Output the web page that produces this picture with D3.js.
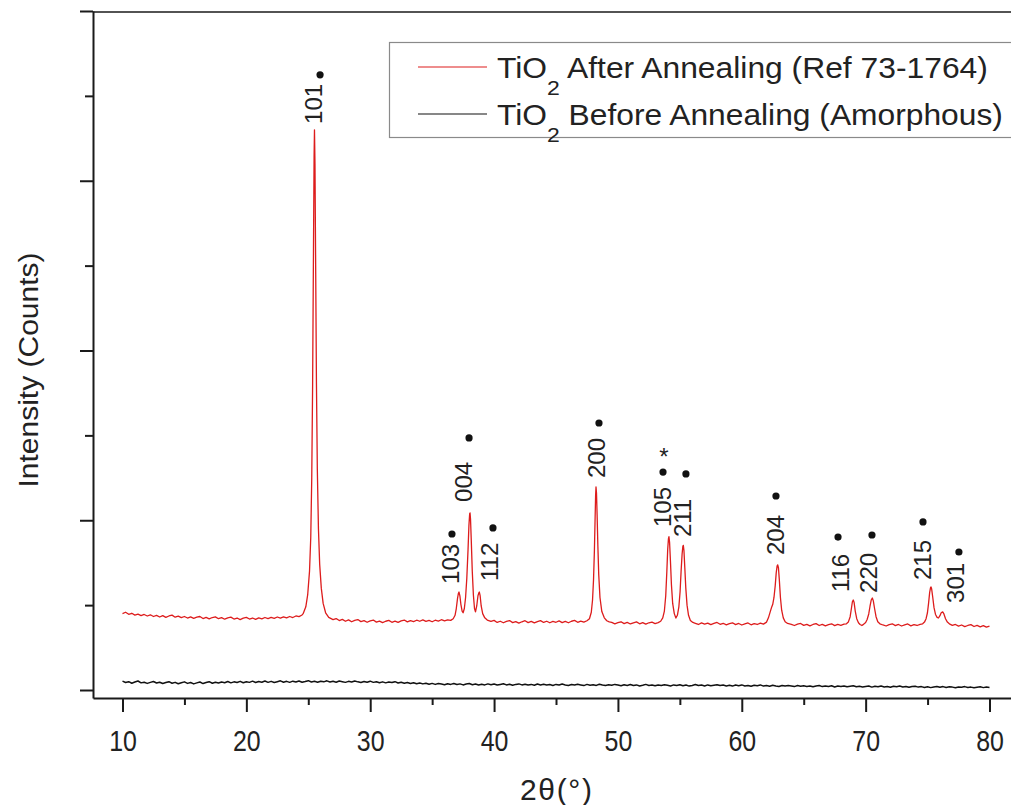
<!DOCTYPE html>
<html>
<head>
<meta charset="utf-8">
<script src="https://cdn.jsdelivr.net/npm/d3@7/dist/d3.min.js"></script>
<style>
  html, body { margin: 0; padding: 0; background: #fff; }
  svg { display: block; font-family: "Liberation Sans", Arial, sans-serif; }
</style>
</head>
<body>
<svg id="chart" width="1011" height="805"></svg>
<script>
// ---------------- DATA ----------------
// 2θ (degrees) vs intensity (counts)
const redSeries = [
  [10,450],[10.25,458],[10.5,446],[10.75,452],[11,441],[11.25,447],[11.5,438],[11.75,445],[12,436],[12.25,443],[12.5,433],[12.75,440],
  [13,430],[13.25,438],[13.5,428],[13.75,436],[14,441],[14.25,429],[14.5,435],[14.75,426],[15,433],[15.25,424],[15.5,431],[15.75,422],
  [16,429],[16.25,433],[16.5,421],[16.75,428],[17,419],[17.25,427],[17.5,431],[17.75,420],[18,426],[18.25,417],[18.5,425],[18.75,429],
  [19,418],[19.25,424],[19.5,415],[19.75,423],[20,428],[20.25,418],[20.5,424],[20.75,416],[21,425],[21.25,419],[21.5,427],[21.75,420],
  [22,428],[22.25,422],[22.5,430],[22.75,423],[23,431],[23.25,425],[23.5,433],[23.75,427],[24,436],[24.25,432],[24.5,442],
  [24.6,452],[24.8,490],[24.95,560],[25.1,700],[25.2,900],[25.28,1250],[25.35,1800],[25.42,2600],[25.47,3150],[25.5,3300],[25.54,3100],
  [25.6,2450],[25.66,1800],[25.73,1300],[25.82,950],[25.92,740],[26.05,600],[26.2,510],[26.4,455],[26.65,428],[27,415],
  [27.25,421],[27.5,409],[27.75,416],[28,405],[28.25,413],[28.5,402],[28.75,410],[29,415],[29.25,403],[29.5,409],[29.75,399],[30,407],
  [30.25,412],[30.5,400],[30.75,406],[31,397],[31.25,405],[31.5,410],[31.75,399],[32,406],[32.25,398],[32.5,407],[32.75,412],[33,401],
  [33.25,409],[33.5,403],[33.75,411],[34,405],[34.25,413],[34.5,404],[34.75,410],[35,402],[35.25,411],[35.5,406],[35.75,414],[36,407],
  [36.25,413],[36.5,410],
  [36.7,420],[36.85,440],[36.95,480],[37.05,540],[37.12,570],[37.17,577],[37.24,555],[37.32,505],[37.42,465],[37.5,455],[37.6,480],
  [37.7,545],[37.8,660],[37.9,830],[37.97,970],[38.03,1038],[38.06,1043],[38.1,1005],[38.16,880],[38.24,700],[38.33,560],[38.42,480],
  [38.5,460],[38.6,495],[38.7,555],[38.77,572],[38.81,577],[38.87,558],[38.96,495],[39.08,450],[39.25,425],[39.45,412],[39.75,404],
  [40,410],[40.25,398],[40.5,405],[40.75,396],[41,404],[41.25,409],[41.5,397],[41.75,403],[42,394],[42.25,402],[42.5,408],[42.75,397],
  [43,404],[43.25,395],[43.5,403],[43.75,409],[44,398],[44.25,405],[44.5,396],[44.75,404],[45,399],[45.25,407],[45.5,397],[45.75,404],
  [46,396],[46.25,405],[46.5,410],[46.75,399],[47,406],[47.25,400],[47.5,408],
  [47.7,420],[47.85,458],[47.95,530],[48.03,650],[48.1,820],[48.16,1020],[48.2,1150],[48.23,1196],[48.27,1160],[48.32,1030],[48.38,850],
  [48.45,680],[48.55,545],[48.7,462],[48.9,425],[49.1,408],[49.3,401],
  [49.5,398],[49.75,390],[50,397],[50.25,402],[50.5,391],[50.75,398],[51,389],[51.25,396],[51.5,401],[51.75,390],[52,397],[52.25,388],
  [52.5,396],[52.75,400],[53,391],[53.25,397],
  [53.45,405],[53.62,425],[53.75,465],[53.86,555],[53.95,700],[54.02,830],[54.08,892],[54.12,903],[54.17,870],[54.24,760],[54.32,620],
  [54.42,510],[54.55,450],[54.68,424],[54.8,440],[54.92,490],[55.02,580],[55.1,700],[55.18,800],[55.24,845],[55.28,852],[55.33,822],
  [55.4,720],[55.48,600],[55.58,500],[55.7,440],[55.85,410],[56.05,398],
  [56.25,393],[56.5,386],[56.75,395],[57,388],[57.25,394],[57.5,385],[57.75,392],[58,398],[58.25,387],[58.5,393],[58.75,384],[59,391],
  [59.25,396],[59.5,385],[59.75,392],[60,383],[60.25,390],[60.5,395],[60.75,384],[61,391],[61.25,386],[61.5,394],[61.75,388],
  [62,400],[62.15,425],[62.3,462],[62.41,488],[62.5,505],[62.6,545],[62.7,615],[62.78,690],[62.85,730],[62.9,737],[62.96,720],
  [63.03,650],[63.12,545],[63.22,470],[63.35,425],[63.5,402],[63.7,392],
  [64,387],[64.25,380],[64.5,388],[64.75,392],[65,381],[65.25,387],[65.5,378],[65.75,386],[66,391],[66.25,380],[66.5,387],[66.75,378],
  [67,385],[67.25,390],[67.5,379],[67.75,386],[68,381],[68.25,388],
  [68.45,390],[68.6,400],[68.75,432],[68.85,480],[68.93,520],[69,530],[69.07,515],[69.16,465],[69.28,420],[69.42,396],[69.55,386],
  [69.7,380],[69.85,388],[70,398],[70.12,415],[70.25,448],[70.35,492],[70.45,530],[70.54,542],[70.62,525],[70.72,480],[70.84,432],
  [70.98,402],[71.15,390],[71.4,383],
  [71.65,377],[71.9,385],[72.15,390],[72.4,379],[72.65,386],[72.9,377],[73.15,384],[73.4,389],[73.65,378],[73.9,385],[74.15,380],[74.4,387],
  [74.6,390],[74.75,400],[74.88,420],[74.99,455],[75.08,510],[75.17,575],[75.24,603],[75.28,607],[75.33,595],[75.42,545],[75.52,485],
  [75.64,445],[75.77,428],[75.88,424],[76,438],[76.1,455],[76.22,460],[76.32,448],[76.45,420],[76.6,400],[76.8,388],[77,381],
  [77.25,386],[77.5,376],[77.75,383],[78,373],[78.25,380],[78.5,385],[78.75,374],[79,381],[79.25,372],[79.5,379],[79.75,370],[80,376]
];

// amorphous pattern: start angle, step, counts
const blackStart = 10;
const blackStep = 0.25;
const blackCounts = [
  52,44,49,40, 47,53,42,46, 39,45,50,41, 46,38,44,49, 40,45,37,43, 48,39,44,36, 42,47,38,44, 49,40,46,41,
  47,43,50,42, 48,44,51,43, 49,45,52,44, 50,46,53,45, 51,44,49,54, 46,51,45,52, 47,53,46,50, 55,47,51,46,
  52,48,54,47, 51,46,53,49, 45,51,47,53, 48,44,50,46, 52,45,49,43, 48,42,47,44, 49,41,46,40, 44,38,43,37,
  41,36,40,34, 39,33,38,35, 31,37,33,38, 32,36,30,35, 38,31,35,29, 34,30,36,31, 35,29,33,37, 30,34,28,33,
  36,30,34,29, 33,28,35,30, 34,29,32,27, 33,29,35,30, 27,32,29,34, 30,26,33,28, 31,27,34,29, 26,31,28,33,
  29,25,31,27, 32,26,30,24, 28,33,27,30, 25,30,26,31, 28,24,30,26, 31,25,29,23, 27,32,26,29, 24,30,25,28,
  31,26,29,24, 28,23,29,25, 30,24,27,22, 28,25,30,23, 26,22,28,24, 21,27,23,26, 24,20,26,22, 25,21,24,19,
  23,26,20,24, 21,25,18,23, 20,24,19,22, 25,19,22,18, 21,24,17,22, 19,23,18,21, 16,22,19,23, 18,21,16,20,
  22,17,20,15, 19,14,18,21, 16,20,15,19, 17,13,18,16, 20,15,17,13, 16,19,14,17, 15
];

// peak annotations: hkl, label position (2θ, counts at text start), marker position
const peakLabels = [
  {hkl:"101", lx:25.46, ly:3335, dx:25.95, dy:3624},
  {hkl:"103", lx:36.52, ly:625,  dx:36.60, dy:919},
  {hkl:"004", lx:37.57, ly:1108, dx:37.98, dy:1485},
  {hkl:"112", lx:39.67, ly:642,  dx:39.91, dy:955},
  {hkl:"200", lx:48.27, ly:1249, dx:48.47, dy:1573},
  {hkl:"105", lx:53.56, ly:960,  dx:53.64, dy:1284, star:true, sx:53.72, sy:1385},
  {hkl:"211", lx:55.25, ly:901,  dx:55.49, dy:1273},
  {hkl:"204", lx:62.76, ly:795,  dx:62.76, dy:1143},
  {hkl:"116", lx:67.93, ly:577,  dx:67.77, dy:901},
  {hkl:"220", lx:70.27, ly:572,  dx:70.51, dy:913},
  {hkl:"215", lx:74.63, ly:648,  dx:74.63, dy:990},
  {hkl:"301", lx:77.29, ly:513,  dx:77.53, dy:813}
];

const xMajorTicks = [10,20,30,40,50,60,70,80];
const xMinorTicks = [15,25,35,45,55,65,75];
const yMajorTicks = [0,1000,2000,3000,4000];
const yMinorTicks = [500,1500,2500,3500];

const legendItems = [
  {pre:"TiO", sub:"2", post:" After Annealing (Ref 73-1764)", color:"#dd1c1c", width:491},
  {pre:"TiO", sub:"2", post:" Before Annealing (Amorphous)", color:"#111111", width:506}
];

// ---------------- CHART ----------------
const svg = d3.select("#chart");
const font = '"Liberation Sans", Arial, sans-serif';

const xBase = d3.scaleLinear().domain([10, 80]).range([122.5, 989.5]);
const x = d3.scaleLinear().domain([xBase.invert(93), xBase.invert(1030)]).range([93, 1030]);
const yBase = d3.scaleLinear().domain([0, 4000]).range([690, 11]);
const y = d3.scaleLinear().domain([yBase.invert(698), 4000]).range([698, 11]);

const blackSeries = blackCounts.map((c, i) => [blackStart + i * blackStep, c]);

const line = d3.line().x(d => x(d[0])).y(d => y(d[1]));

svg.append("path").datum(blackSeries)
  .attr("d", line).attr("fill", "none")
  .attr("stroke", "#111").attr("stroke-width", 1.5).attr("stroke-linejoin", "round");

svg.append("path").datum(redSeries)
  .attr("d", line).attr("fill", "none")
  .attr("stroke", "#dd1c1c").attr("stroke-width", 1.3).attr("stroke-linejoin", "round");

// axes
const axisColor = "#1a1a1a";
const gx = svg.append("g").attr("transform", `translate(0,${y.range()[0]})`)
  .call(d3.axisBottom(x).tickValues(xMajorTicks).tickSize(14).tickSizeOuter(0).tickFormat(d3.format("d")));
svg.append("g").attr("transform", `translate(0,${y.range()[0]})`)
  .call(d3.axisBottom(x).tickValues(xMinorTicks).tickSize(7).tickSizeOuter(0).tickFormat(""))
  .select(".domain").remove();
gx.selectAll("text")
  .attr("y", 53).attr("dy", null)
  .attr("font-size", 29).attr("font-family", font).attr("fill", "#222")
  .attr("transform", "scale(0.86,1)");

const gy = svg.append("g").attr("transform", `translate(${x.range()[0]},0)`)
  .call(d3.axisLeft(y).tickValues(yMajorTicks).tickSize(13).tickSizeOuter(0).tickFormat(""));
svg.append("g").attr("transform", `translate(${x.range()[0]},0)`)
  .call(d3.axisLeft(y).tickValues(yMinorTicks).tickSize(8).tickSizeOuter(0).tickFormat(""))
  .select(".domain").remove();

svg.selectAll(".domain").attr("stroke", axisColor).attr("stroke-width", 2);
svg.selectAll(".tick line").attr("stroke", axisColor).attr("stroke-width", 2);

// top frame line
svg.append("line")
  .attr("x1", x.range()[0]).attr("x2", x.range()[1])
  .attr("y1", y(4000) + 1).attr("y2", y(4000) + 1)
  .attr("stroke", axisColor).attr("stroke-width", 1.6);

// axis titles
svg.append("text")
  .attr("transform", "translate(38,370) scale(0.92,1) rotate(-90)")
  .attr("text-anchor", "middle").attr("font-size", 30).attr("font-family", font).attr("fill", "#222")
  .text("Intensity (Counts)");

svg.append("text")
  .attr("x", 556).attr("y", 800)
  .attr("text-anchor", "middle").attr("font-size", 30).attr("font-family", font).attr("fill", "#222")
  .attr("textLength", 72).attr("lengthAdjust", "spacing")
  .text("2θ(°)");

// peak labels
const gl = svg.append("g");
peakLabels.forEach(p => {
  gl.append("text")
    .attr("transform", `translate(${x(p.lx)},${y(p.ly)}) rotate(-90)`)
    .attr("text-anchor", "start").attr("dominant-baseline", "central")
    .attr("font-size", 24).attr("font-family", font).attr("fill", "#222")
    .text(p.hkl);
  gl.append("circle").attr("cx", x(p.dx)).attr("cy", y(p.dy)).attr("r", 3.6).attr("fill", "#111");
  if (p.star) {
    gl.append("text").attr("x", x(p.sx)).attr("y", y(p.sy) + 10)
      .attr("text-anchor", "middle").attr("font-size", 24).attr("font-family", font).attr("fill", "#222")
      .text("*");
  }
});

// legend
const lg = svg.append("g");
lg.append("rect").attr("x", 389.5).attr("y", 42.5).attr("width", 660).attr("height", 95)
  .attr("fill", "#fff").attr("stroke", "#8a8a8a").attr("stroke-width", 1.2);
legendItems.forEach((d, i) => {
  const cy = 67 + i * 47;
  lg.append("line").attr("x1", 418).attr("x2", 487).attr("y1", cy).attr("y2", cy)
    .attr("stroke", d.color).attr("stroke-width", 1.2);
  const t = lg.append("text").attr("x", 497).attr("y", cy + 11)
    .attr("font-size", 29).attr("font-family", font).attr("fill", "#222");
  t.append("tspan").text(d.pre);
  t.append("tspan").attr("font-size", 21).attr("dy", 17).text(d.sub);
  t.append("tspan").attr("dy", -17).text(d.post);
  const w = t.node().getComputedTextLength();
  const s = d.width / w;
  t.attr("transform", `translate(497,0) scale(${s},1) translate(-497,0)`);
});
</script>
</body>
</html>
